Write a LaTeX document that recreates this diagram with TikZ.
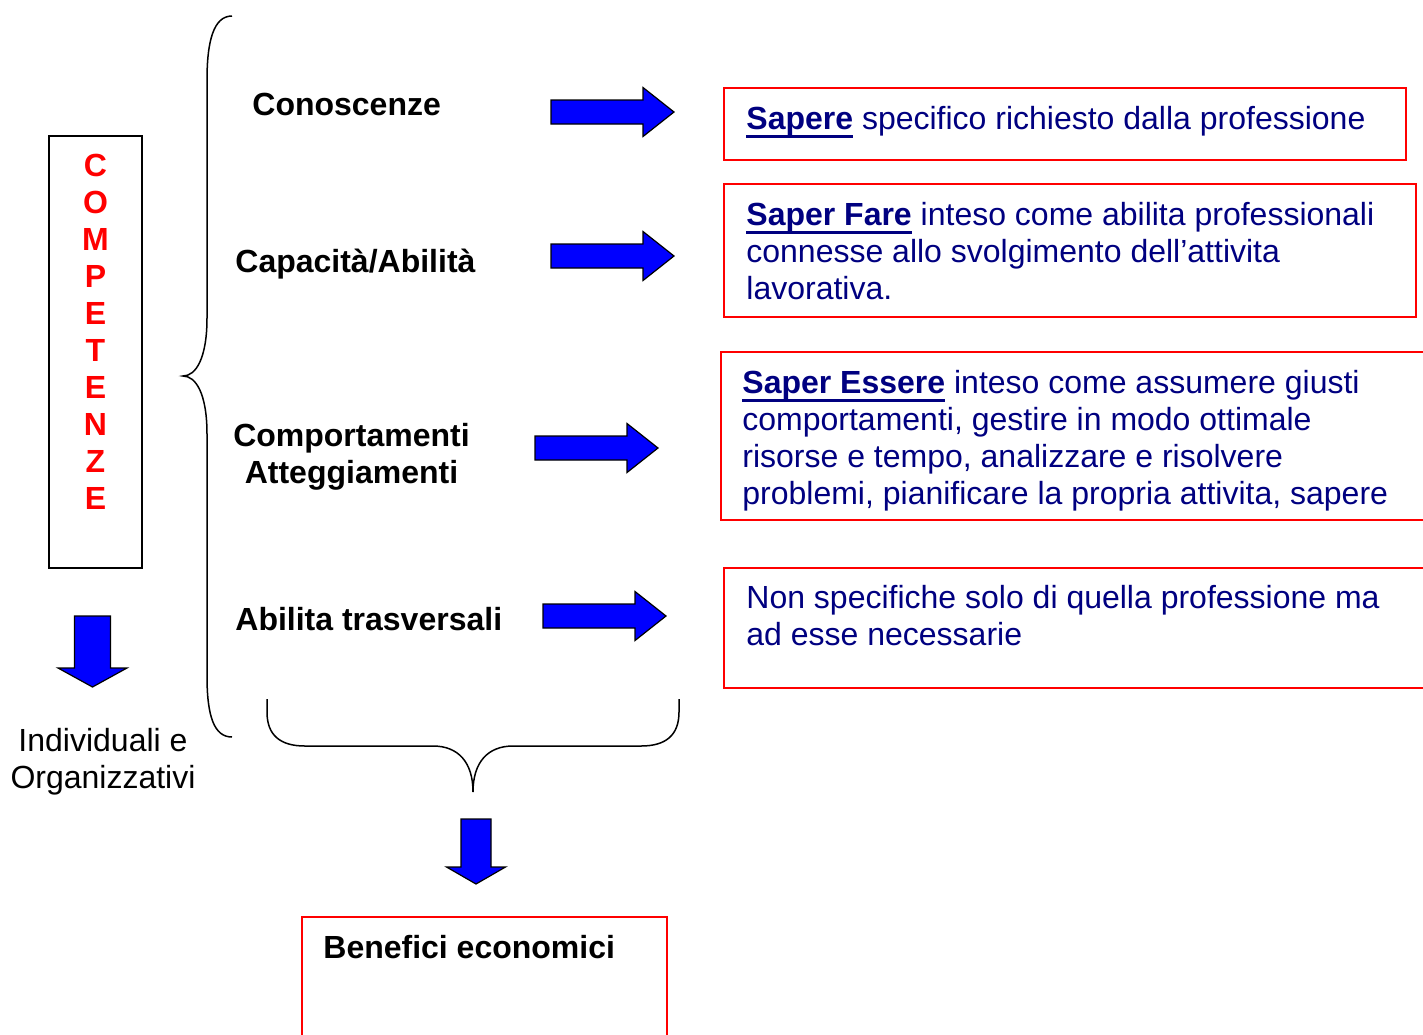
\documentclass[tikz,border=0pt]{standalone}
\usepackage{fontspec}
\setmainfont{Liberation Sans}
\usetikzlibrary{positioning}

\definecolor{navytext}{RGB}{0,0,128}
\definecolor{arrowblue}{RGB}{0,0,255}
\definecolor{boxred}{RGB}{255,0,0}

\newsavebox{\saperbox}
\newcommand{\saperkey}[1]{\sbox{\saperbox}{\bfseries #1}\rlap{\rule[-4.3pt]{\wd\saperbox}{1.3pt}}\usebox{\saperbox}}

\tikzset{
  lab/.style={font=\fontsize{16}{18.5}\selectfont\bfseries, inner sep=0pt, anchor=base west},
  desc/.style={font=\fontsize{16}{18.5}\selectfont, text=navytext, inner sep=0pt, anchor=base west, align=left},
  redbox/.style={draw=boxred, line width=0.8pt},
  blockarrow/.style={draw=black, fill=arrowblue, line width=0.6pt, line join=miter},
  brace/.style={draw=black, line width=0.75pt},
  rarrow/.pic={\draw[blockarrow] (0,-12) -- (92,-12) -- (92,-24.5) -- (123,0) -- (92,24.5) -- (92,12) -- (0,12) -- cycle;}
}

\begin{document}
\begin{tikzpicture}[x=0.5pt,y=-0.5pt]
  \useasboundingbox (0,0) rectangle (1423,1034);

  % COMPETENZE column (multi-line nodes sit on their last baseline)
  \draw[black, line width=0.75pt] (49,136) rectangle (142,568);
  \node[lab, anchor=base, text=boxred, align=center] (comp) at (95.5,509)
    {C\\O\\M\\P\\E\\T\\E\\N\\Z\\E};
  \draw[blockarrow] (74.5,616) -- (110.5,616) -- (110.5,668) -- (127,668) -- (92.5,687)
    -- (58,668) -- (74.5,668) -- cycle;
  \node[font=\fontsize{16}{18.5}\selectfont, inner sep=0pt, anchor=base, align=center] (indiv) at (103,788.5)
    {Individuali e\\Organizzativi};

  % big left brace
  \draw[brace] (232,16) .. controls (214,16) and (207,40) .. (207,80) -- (207,318)
    .. controls (207,358) and (196,376) .. (183,376)
    .. controls (196,376) and (207,394) .. (207,434) -- (207,676)
    .. controls (207,716) and (214,737) .. (232,737);

  % left labels
  \node[lab] (cono) at (252,115) {Conoscenze};
  \node[lab] (capa) at (235,272) {Capacità/Abilità};
  \node[lab, anchor=base, align=center] (atte) at (351.5,483) {Comportamenti\\Atteggiamenti};
  \node[lab] (trasv) at (235,630) {Abilita trasversali};

  % arrows to the right
  \pic at (551,112) {rarrow};
  \pic at (551,256) {rarrow};
  \pic at (535,448) {rarrow};
  \pic at (543,616) {rarrow};

  % description boxes
  \draw[redbox] (724,88) rectangle (1406,160);
  \node[desc] (sapere) at (746,129) {\saperkey{Sapere} specifico richiesto dalla professione};

  \draw[redbox] (724,184) rectangle (1416,317);
  \node[desc] (fare) at (746,299) {\saperkey{Saper Fare} inteso come abilita professionali\\
    connesse allo svolgimento dell’attivita\\lavorativa.};

  \draw[redbox] (721,352) rectangle (1440,520);
  \node[desc] (essere) at (742,504) {\saperkey{Saper Essere} inteso come assumere giusti\\
    comportamenti, gestire in modo ottimale\\risorse e tempo, analizzare e risolvere\\
    problemi, pianificare la propria attivita, sapere};

  \draw[redbox] (724,568) rectangle (1440,688);
  \node[desc] (nonspec) at (746,645) {Non specifiche solo di quella professione ma\\ad esse necessarie};

  % bottom brace
  \draw[brace] (267,699) -- (267,712) .. controls (267,735) and (280,746) .. (305,746) -- (433,746)
    .. controls (458,746) and (473,762) .. (473,792)
    .. controls (473,762) and (488,746) .. (513,746) -- (641,746)
    .. controls (666,746) and (679,735) .. (679,712) -- (679,699);

  \draw[blockarrow] (461,819) -- (491,819) -- (491,867) -- (505.5,867) -- (476,884)
    -- (446.5,867) -- (461,867) -- cycle;

  % result box
  \draw[redbox] (302,917) rectangle (667,1050);
  \node[lab] (benef) at (323,958.5) {Benefici economici};
\end{tikzpicture}
\end{document}
